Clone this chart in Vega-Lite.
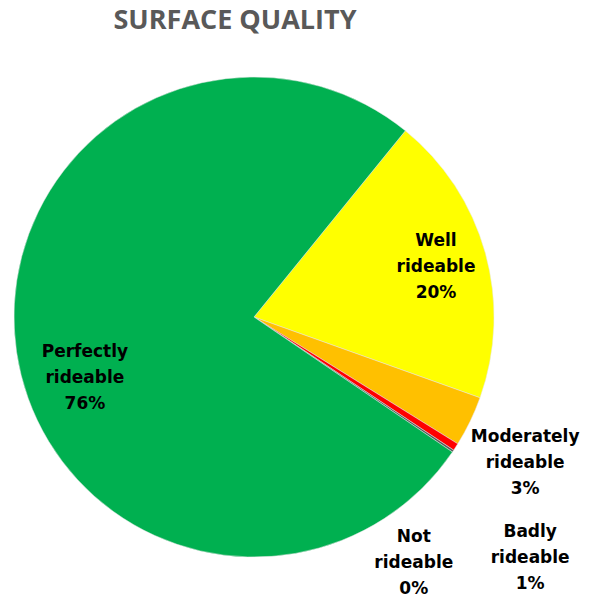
{
  "$schema": "https://vega.github.io/schema/vega-lite/v6.json",
  "width": 480,
  "height": 480,
  "autosize": "none",
  "padding": {"left": 14, "top": 77, "right": 109, "bottom": 44},
  "background": "white",
  "title": {
    "text": "SURFACE QUALITY",
    "anchor": "middle",
    "frame": "group",
    "dx": -19,
    "offset": 28,
    "baseline": "middle",
    "font": "Open Sans",
    "fontSize": 27,
    "fontWeight": "bold",
    "color": "#595959"
  },
  "data": {
    "values": [
      {"category": "Well rideable", "percent": 19.6},
      {"category": "Moderately rideable", "percent": 3.4},
      {"category": "Badly rideable", "percent": 0.5},
      {"category": "Not rideable", "percent": 0.15},
      {"category": "Perfectly rideable", "percent": 76.35}
    ]
  },
  "transform": [
    {"window": [{"op": "row_number", "as": "i"}]},
    {"calculate": "replace(datum.category, ' ', '\\n') + '\\n' + format(datum.percent, '.0f') + '%'", "as": "label"}
  ],
  "encoding": {
    "theta": {
      "field": "percent",
      "type": "quantitative",
      "stack": true,
      "scale": {"range": [0.6824, 6.9656]}
    },
    "order": {"field": "i", "type": "quantitative"}
  },
  "layer": [
    {
      "mark": {"type": "arc", "stroke": "#e6e6e6", "strokeWidth": 0.5},
      "encoding": {
        "color": {
          "field": "category",
          "type": "nominal",
          "scale": {
            "domain": ["Well rideable", "Moderately rideable", "Badly rideable", "Not rideable", "Perfectly rideable"],
            "range": ["#FFFF00", "#FFC000", "#FF0000", "#595959", "#00B050"]
          },
          "legend": null
        }
      }
    },
    {
      "mark": {
        "type": "text",
        "font": "DejaVu Sans",
        "fontSize": 17,
        "fontWeight": "bold",
        "color": "#000000",
        "lineBreak": "\n",
        "lineHeight": 26,
        "align": "center",
        "baseline": "middle",
        "radius": {"expr": "datum.category === 'Well rideable' ? 189 : datum.category === 'Perfectly rideable' ? 180 : 300"},
        "dx": {"expr": "datum.category === 'Perfectly rideable' ? 9 : datum.category === 'Moderately rideable' ? 1 : datum.category === 'Badly rideable' ? 24 : datum.category === 'Not rideable' ? -89 : 0"},
        "dy": {"expr": "datum.category === 'Perfectly rideable' ? 9 : datum.category === 'Moderately rideable' ? -10 : datum.category === 'Badly rideable' ? 52 : datum.category === 'Not rideable' ? 52 : -25"}
      },
      "encoding": {
        "text": {"field": "label", "type": "nominal"}
      }
    }
  ]
}
